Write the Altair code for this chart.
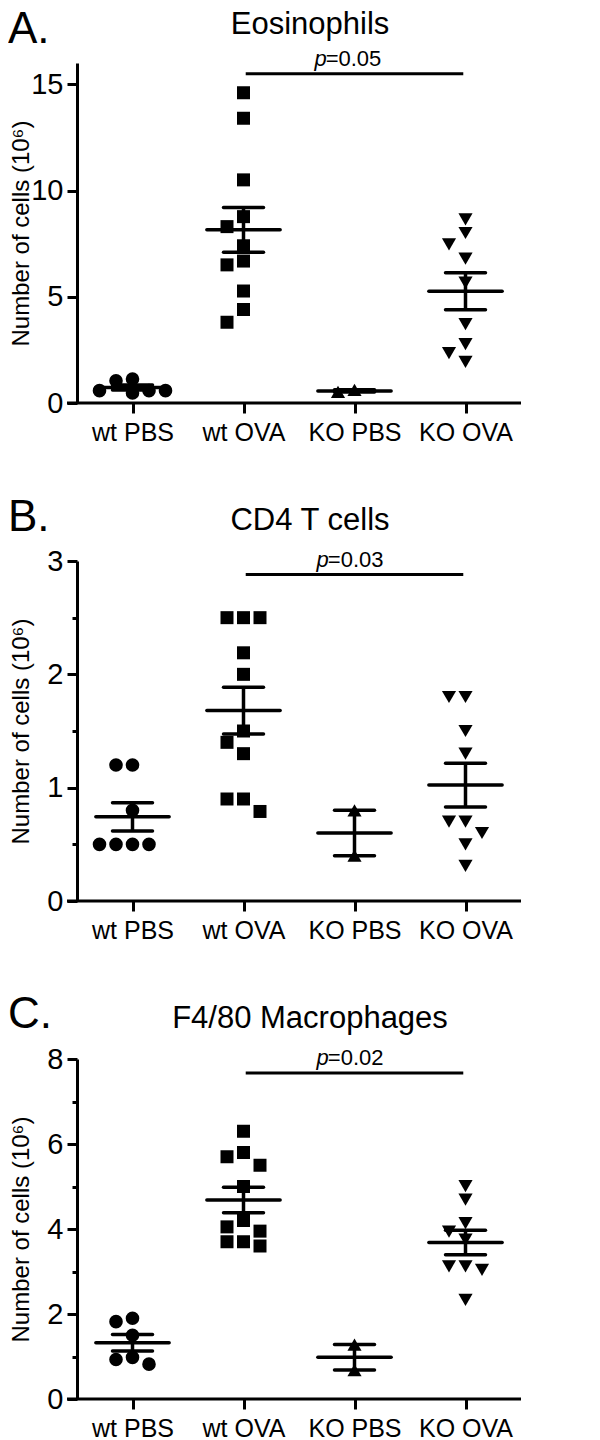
import altair as alt
import pandas as pd
import numpy as np

# ---------------- data ----------------
groups = ["wt PBS", "wt OVA", "KO PBS", "KO OVA"]
shapes = ["circle", "square", "triangle-up", "triangle-down"]

eos_wt_pbs = [1.05, 1.13, 0.58, 0.47, 0.58, 0.58]
eos_wt_ova = [14.6, 13.4, 10.5, 8.77, 8.3, 7.4, 6.68, 6.5, 5.27, 4.4, 3.8]
eos_ko_pbs = [0.52, 0.62]
eos_ko_ova = [8.64, 8.0, 7.46, 6.79, 5.66, 3.71, 2.77, 2.35, 1.94]

cd4_wt_pbs = [1.2, 1.2, 0.8, 0.5, 0.5, 0.5, 0.5]
cd4_wt_ova = [2.5, 2.5, 2.5, 2.19, 2.0, 1.5, 1.4, 1.3, 0.9, 0.9, 0.79]
cd4_ko_pbs = [0.8, 0.4]
cd4_ko_ova = [1.8, 1.8, 1.5, 1.3, 0.7, 0.7, 0.6, 0.5, 0.31]

mac_wt_pbs = [1.9, 1.82, 1.5, 0.98, 0.93, 0.82]
mac_wt_ova = [6.3, 5.8, 5.7, 5.5, 5.0, 4.2, 4.05, 3.95, 3.7, 3.7, 3.6]
mac_ko_pbs = [1.28, 0.68]
mac_ko_ova = [5.01, 4.69, 4.14, 3.94, 3.75, 3.12, 3.12, 3.04, 2.33]

letters = ["A.", "B.", "C."]
titles = ["Eosinophils", "CD4 T cells", "F4/80 Macrophages"]
y_max = [16, 3, 8]
y_ticks = [[0, 5, 10, 15], [0, 0.5, 1, 1.5, 2, 2.5, 3], [0, 1, 2, 3, 4, 5, 6, 7, 8]]
label_every = [5, 1, 2]
p_texts = ["=0.05", "=0.03", "=0.02"]
bracket_y = [15.5, 2.88, 7.67]
bracket_from = [1.02, 1.02, 1.02]
bracket_to = [2.98, 2.98, 2.98]
p_anchor = [1.74, 1.76, 1.76]

panels_values = [
    [eos_wt_pbs, eos_wt_ova, eos_ko_pbs, eos_ko_ova],
    [cd4_wt_pbs, cd4_wt_ova, cd4_ko_pbs, cd4_ko_ova],
    [mac_wt_pbs, mac_wt_ova, mac_ko_pbs, mac_ko_ova],
]

# ---------------- layout / style ----------------
W, H = 444, 340
STEP = W / 4.0
FONT = "Liberation Sans"
shape_size = {"circle": 185, "square": 169, "triangle-up": 200, "triangle-down": 200}
MEAN_HALF = 0.33
CAP_HALF = 0.18
LETTER_DY = [-20, -30, -31]   # pixel offsets of the panel letters above each plot
TITLE_DY = [-29, -31, -31]    # pixel offsets of the panel titles above each plot


def swarm_offsets(values, ymax):
    """Deterministic beeswarm: spread overlapping points sideways."""
    pxu = H / ymax
    D = 13.0
    d = 16.5
    order = sorted(range(len(values)), key=lambda i: -values[i])
    placed = []
    offs = [0.0] * len(values)
    for i in order:
        ypx = values[i] * pxu
        for k in [0, -1, 1, -2, 2, -3, 3]:
            if all(not (kk == k and abs(yy - ypx) < D) for kk, yy in placed):
                placed.append((k, ypx))
                offs[i] = k * d / STEP
                break
    return offs


x_label_expr = "[" + ",".join("'%s'" % g for g in groups) + "][datum.value]"


def make_panel(p):
    ymax = y_max[p]
    pts = []
    stats = []
    for gi, vals in enumerate(panels_values[p]):
        offs = swarm_offsets(vals, ymax)
        for v, o in zip(vals, offs):
            pts.append({"x": gi + o, "y": v, "shape": shapes[gi],
                        "size": shape_size[shapes[gi]]})
        arr = np.array(vals, dtype=float)
        m = arr.mean()
        s = arr.std(ddof=1) / np.sqrt(len(arr))
        stats.append({"x": gi, "xl": gi - MEAN_HALF, "xr": gi + MEAN_HALF,
                      "cl": gi - CAP_HALF, "cr": gi + CAP_HALF,
                      "mean": m, "lo": m - s, "hi": m + s})
    pts = pd.DataFrame(pts)
    stats = pd.DataFrame(stats)
    ann = pd.DataFrame({"letter": [letters[p]], "title": [titles[p]],
                        "ptext": [p_texts[p]], "by": [bracket_y[p]],
                        "bx1": [bracket_from[p]], "bx2": [bracket_to[p]],
                        "px": [p_anchor[p]]})

    xscale = alt.Scale(domain=[-0.5, 3.5], nice=False, zero=False)
    yscale = alt.Scale(domain=[0, ymax], nice=False)
    every = label_every[p]
    xaxis = alt.Axis(values=[0, 1, 2, 3], labelExpr=x_label_expr, title=None,
                     domain=False, tickSize=10, tickWidth=3, labelFontSize=25,
                     labelPadding=7, labelColor="black", tickColor="black",
                     labelFont=FONT, grid=False)
    yaxis = alt.Axis(values=y_ticks[p],
                     labelExpr="datum.value %% %s === 0 ? format(datum.value, 'd') : ''" % every,
                     tickSize={"condition": {"test": "datum.value %% %s !== 0" % every,
                                             "value": 5}, "value": 10},
                     tickWidth=3, domainWidth=3, domainColor="black", tickColor="black",
                     labelFontSize=29, labelPadding=4, labelColor="black", labelFont=FONT,
                     title="Number of cells (10\u2076)", titleFont=FONT, titleFontSize=24,
                     titleFontWeight="normal", titleColor="black", titleX=-56,
                     titleBaseline="middle", grid=False)

    def X(f):
        return alt.X(f, type="quantitative", scale=xscale, axis=xaxis)

    def Y(f):
        return alt.Y(f, type="quantitative", scale=yscale, axis=yaxis)

    points = alt.Chart(pts).mark_point(filled=True, color="black", opacity=1).encode(
        x=X("x"), y=Y("y"),
        shape=alt.Shape("shape:N", scale=None),
        size=alt.Size("size:Q", scale=None),
    )
    mean_line = alt.Chart(stats).mark_rule(color="black", strokeWidth=3.5, strokeCap="round").encode(
        x=X("xl"), x2="xr", y=Y("mean"))
    sem_line = alt.Chart(stats).mark_rule(color="black", strokeWidth=3.5).encode(
        x=X("x"), y=Y("lo"), y2="hi")
    cap_hi = alt.Chart(stats).mark_rule(color="black", strokeWidth=3.5, strokeCap="round").encode(
        x=X("cl"), x2="cr", y=Y("hi"))
    cap_lo = alt.Chart(stats).mark_rule(color="black", strokeWidth=3.5, strokeCap="round").encode(
        x=X("cl"), x2="cr", y=Y("lo"))
    x_line = alt.Chart(ann).mark_rule(color="black", strokeWidth=3).encode(
        x=alt.value(-10), x2=alt.value(W), y=alt.value(H))
    bracket = alt.Chart(ann).mark_rule(color="black", strokeWidth=3).encode(
        x=X("bx1"), x2="bx2", y=Y("by"))
    p_it = alt.Chart(ann).mark_text(font=FONT, fontSize=22, fontStyle="italic", align="right",
                                    baseline="alphabetic", dy=-8, dx=1, color="black").encode(
        x=X("px"), y=Y("by"), text=alt.value("p"))
    p_val = alt.Chart(ann).mark_text(font=FONT, fontSize=22, align="left",
                                     baseline="alphabetic", dy=-8, color="black").encode(
        x=X("px"), y=Y("by"), text="ptext:N")
    letter = alt.Chart(ann).mark_text(font=FONT, fontSize=44, align="left",
                                      baseline="alphabetic", color="black").encode(
        x=alt.value(-69), y=alt.value(LETTER_DY[p]), text="letter:N")
    title = alt.Chart(ann).mark_text(font=FONT, fontSize=31, align="center",
                                     baseline="alphabetic", color="black").encode(
        x=alt.value(W / 2 + 11), y=alt.value(TITLE_DY[p]), text="title:N")

    return alt.layer(points, sem_line, mean_line, cap_hi, cap_lo, x_line, bracket,
                     p_it, p_val, letter, title).properties(width=W, height=H)


chart = alt.vconcat(make_panel(0), make_panel(1), make_panel(2),
                    spacing=158, bounds="flush").properties(
    padding={"top": 0, "left": 0, "right": 0, "bottom": 0}
).configure_view(stroke=None)

chart.save("out.html", embed_options={"renderer": "svg", "actions": False})
